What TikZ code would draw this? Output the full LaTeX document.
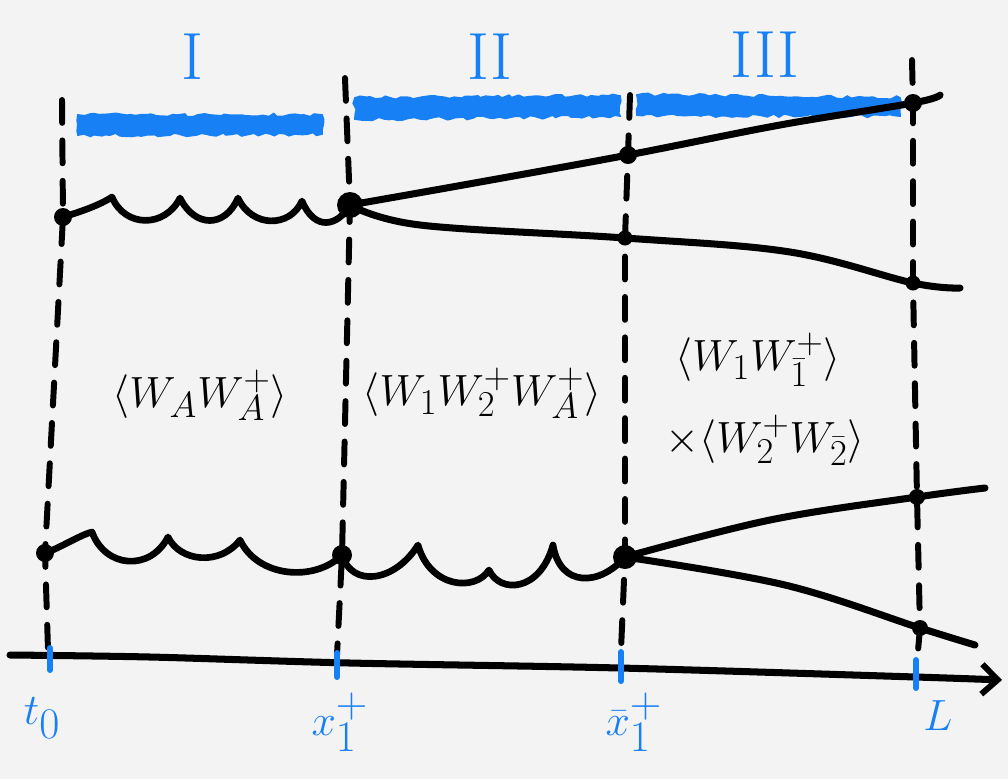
\documentclass[tikz,border=0pt]{standalone}
\usetikzlibrary{arrows.meta,decorations.pathmorphing}
\definecolor{bg}{RGB}{243,243,243}
\definecolor{pen}{RGB}{24,128,245}
\begin{document}
\begin{tikzpicture}[x=0.02cm,y=-0.02cm,
  dotS/.style={circle,fill=black,inner sep=0pt,minimum size=18*0.02cm},
  dotB/.style={circle,fill=black,inner sep=0pt,minimum size=26*0.02cm},
  dashline/.style={line width=3.4pt,line cap=round,dash pattern=on 13pt off 10pt},
  solidline/.style={line width=4pt,line cap=round,line join=round},
  wave/.style={line width=3.8pt,line cap=round,line join=round},
  tick/.style={pen,line width=3.4pt,line cap=round},
  bluebar/.style={fill=pen,draw=pen,line width=1pt,decorate,decoration={random steps,segment length=3pt,amplitude=1pt}},
  numeral/.style={pen,font=\fontsize{38}{42}\selectfont},
  axlabel/.style={pen,font=\fontsize{34}{38}\selectfont},
  corr/.style={font=\fontsize{30}{36}\selectfont}]
\fill[bg] (0,0) rectangle (1008,779);
\useasboundingbox (0,0) rectangle (1008,779);

% blue region bars
\path[bluebar] (78,115) -- (322,115) -- (322,134) -- (78,135) -- cycle;
\path[bluebar] (355,98) -- (620,96) -- (620,116) -- (355,119) -- cycle;
\path[bluebar] (637,95) -- (900,98) -- (900,116) -- (637,115) -- cycle;

% roman numerals
\node[numeral] (n1) at (192,57) {I};
\node[numeral] (n2) at (490,57) {II};
\node[numeral] (n3) at (765,55) {III};

% coordinates
\coordinate (t1) at (62,100);  \coordinate (u1) at (48,650);
\coordinate (t2) at (345,78);  \coordinate (u2) at (337,655);
\coordinate (t3) at (630,95);  \coordinate (u3) at (621,650);
\coordinate (t4) at (912,60);  \coordinate (u4) at (917,662);

\coordinate (a1) at (63,217);
\coordinate (a2) at (45,553);
\coordinate (b1) at (350,205);
\coordinate (b2) at (342,555);
\coordinate (c1) at (628,155);
\coordinate (c2) at (625,238);
\coordinate (c3) at (625,557);
\coordinate (d0) at (913,103);
\coordinate (d1) at (913,283);
\coordinate (d2) at (917,497);
\coordinate (d3) at (920,628);
\coordinate (e0) at (940,95);
\coordinate (e1) at (960,288);
\coordinate (e2) at (985,488);
\coordinate (e3) at (975,645);

% dashed vertical lines
\draw[dashline] (t1) -- (a1) -- (a2) -- (u1);
\draw[dashline] (t2) -- (b1) -- (b2) -- (u2);
\draw[dashline] (t3) -- (c1) -- (c2) -- (c3) -- (u3);
\draw[dashline] (t4) -- (d0) -- (d1) -- (d2) -- (d3) -- (u4);

% wavy lines
\draw[wave] (a1) .. controls (80,212) and (100,205) .. (112,197)
  .. controls (125,228) and (165,228) .. (180,198)
  .. controls (195,228) and (225,228) .. (238,198)
  .. controls (252,228) and (290,228) .. (302,201)
  .. controls (315,232) and (338,226) .. (b1);
\draw[wave] (a2) .. controls (60,548) and (80,535) .. (92,532)
  .. controls (105,568) and (150,572) .. (168,537)
  .. controls (180,562) and (220,566) .. (240,540)
  .. controls (258,578) and (315,582) .. (b2);
\draw[wave] (b2) .. controls (352,588) and (395,582) .. (418,545)
  .. controls (430,588) and (475,592) .. (489,570)
  .. controls (500,594) and (540,592) .. (553,545)
  .. controls (560,588) and (600,586) .. (c3);

% solid branches
\draw[solidline] plot[smooth,tension=0.6] coordinates {(b1) (480,182) (c1) (780,125) (d0) (e0)};
\draw[solidline] plot[smooth,tension=0.6] coordinates {(b1) (420,225) (c2) (790,252) (d1) (e1)};
\draw[solidline] plot[smooth,tension=0.6] coordinates {(c3) (770,520) (d2) (e2)};
\draw[solidline] plot[smooth,tension=0.6] coordinates {(c3) (785,585) (d3) (e3)};

% dots
\node[dotS] (A1) at (a1) {};
\node[dotS] (A2) at (a2) {};
\node[dotB] (B1) at (b1) {};
\node[dotS,minimum size=20*0.02cm] (B2) at (b2) {};
\node[dotS] (C1) at (c1) {};
\node[dotS,minimum size=15*0.02cm] (C2) at (c2) {};
\node[dotB,minimum size=24*0.02cm] (C3) at (c3) {};
\node[dotS] (D0) at (d0) {};
\node[dotS,minimum size=15*0.02cm] (D1) at (d1) {};
\node[dotS,minimum size=16*0.02cm] (D2) at (d2) {};
\node[dotS,minimum size=16*0.02cm] (D3) at (d3) {};

% axis
\coordinate (axL) at (10,655);
\coordinate (axR) at (1002,680);
\draw[solidline,-{Straight Barb[length=9pt,width=17pt,line width=3.4pt]}]
  plot[smooth,tension=0.5] coordinates {(axL) (150,657) (350,663) (620,668) (916,677) (axR)};
\draw[tick] (50,648) -- (50,670);
\draw[tick] (337,653) -- (337,677);
\draw[tick] (621,652) -- (621,681);
\draw[tick] (916,660) -- (916,688);

% axis labels
\node[axlabel] (l1) at (42,718) {$t_0$};
\node[axlabel] (l2) at (340,722) {$x_1^+$};
\node[axlabel] (l3) at (634,722) {$\bar{x}_1^+$};
\node[axlabel] (l4) at (938,716) {$L$};

% correlators
\node[corr] (k1) at (200,395) {$\langle W_A W_A^+\rangle$};
\node[corr] (k2) at (482,393) {$\langle W_1 W_2^+ W_A^+\rangle$};
\node[corr] (k3) at (758,360) {$\langle W_1 W_{\bar 1}^+\rangle$};
\node[corr] (k4) at (765,440) {$\times\langle W_2^+ W_{\bar 2}\rangle$};
\end{tikzpicture}
\end{document}
